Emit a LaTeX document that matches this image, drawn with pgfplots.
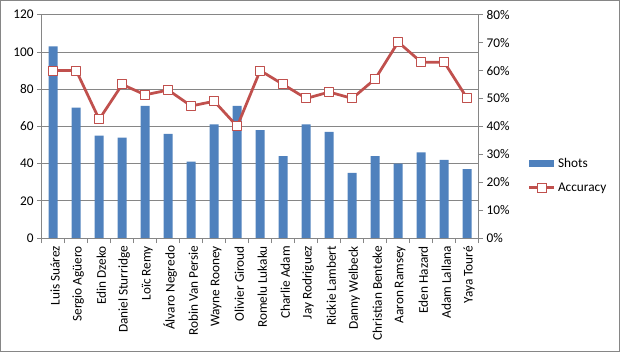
\documentclass[border=0pt]{standalone}
\usepackage{fontspec}
\setmainfont{Carlito}
\usepackage{pgfplots}
\pgfplotsset{compat=1.18}
\definecolor{barblue}{RGB}{79,129,189}
\definecolor{linered}{RGB}{192,80,77}
\definecolor{gridgray}{RGB}{134,134,134}
\pgfplotsset{accleg/.style={legend image code/.code={\draw[linered, line width=2.75bp, mark=square*, mark size=4.5bp, mark options={fill=white, draw=linered, line width=1bp}, mark repeat=2,mark phase=2] plot coordinates {(0bp,0bp) (12.5bp,0bp) (25bp,0bp)};}}}
\begin{document}
\begin{tikzpicture}[font=\fontsize{13.3bp}{16bp}\selectfont]
\draw[gridgray, line width=1bp] (0.5bp,0.5bp) rectangle (619.5bp,351.5bp);
\path (0,0) rectangle (620bp,352bp);
\begin{axis}[
  at={(41.7bp,114bp)}, anchor=south west,
  scale only axis, width=437bp, height=223.3bp,
  xmin=-0.5, xmax=18.5, ymin=0, ymax=120,
  axis y line*=left, axis x line*=bottom,
  axis line style={gridgray, line width=0.75bp},
  tick style={gridgray, line width=0.75bp},
  tick align=outside,
  major tick length=4.5bp, minor tick length=5bp,
  xtick={0,...,18},
  major x tick style={draw=none},
  minor xtick={-0.5,0.5,...,18.5},
  xticklabels={Luis Suárez,Sergio Agüero,Edin Dzeko,Daniel Sturridge,Loïc Remy,Álvaro Negredo,Robin Van Persie,Wayne Rooney,Olivier Giroud,Romelu Lukaku,Charlie Adam,Jay Rodriguez,Rickie Lambert,Danny Welbeck,Christian Benteke,Aaron Ramsey,Eden Hazard,Adam Lallana,Yaya Touré},
  xticklabel style={rotate=90, anchor=east, yshift=-2bp, font=\fontsize{13.3bp}{16bp}\selectfont},
  ytick={0,20,...,120},
  yticklabels={0,20,40,60,80,100,120},
  yticklabel style={font=\fontsize{13.3bp}{16bp}\selectfont},
  ymajorgrids,
  major grid style={gridgray, line width=0.75bp},
  legend style={at={(1.105,0.28)}, anchor=west, draw=none, fill=none,
    font=\fontsize{13.3bp}{16bp}\selectfont, row sep=9bp,
    nodes={inner sep=2.5bp}},
  legend cell align=left,
]
\addplot[ybar, bar width=9bp, fill=barblue, draw=none,
  legend image code/.code={\fill[barblue] (0bp,-3.5bp) rectangle (25bp,3.5bp);}]
  coordinates {(0,103) (1,70) (2,55) (3,54) (4,71) (5,56) (6,41) (7,61) (8,71) (9,58)
   (10,44) (11,61) (12,57) (13,35) (14,44) (15,40) (16,46) (17,42) (18,37)};
\addlegendentry{Shots}
\addlegendimage{accleg}
\addlegendentry{Accuracy}
\end{axis}
\begin{axis}[
  at={(41.7bp,114bp)}, anchor=south west,
  scale only axis, width=437bp, height=223.3bp,
  xmin=-0.5, xmax=18.5, ymin=0, ymax=80,
  axis x line=none, axis y line*=right,
  axis line style={gridgray, line width=0.75bp},
  tick style={gridgray, line width=0.75bp},
  tick align=outside, major tick length=4.5bp,
  ytick={0,10,...,80},
  yticklabels={0\%,10\%,20\%,30\%,40\%,50\%,60\%,70\%,80\%},
  yticklabel style={font=\fontsize{13.3bp}{16bp}\selectfont},
]
\addplot[linered, line width=2.75bp, line join=round, mark=square*, mark size=4.5bp,
  mark options={fill=white, draw=linered, line width=1bp}]
  coordinates {(0,60) (1,60) (2,42.5) (3,55) (4,51.3) (5,53) (6,47.3) (7,49) (8,40)
   (9,60) (10,55) (11,50) (12,52.3) (13,50) (14,57) (15,70.2) (16,63) (17,63) (18,50)};
\end{axis}
\end{tikzpicture}
\end{document}
